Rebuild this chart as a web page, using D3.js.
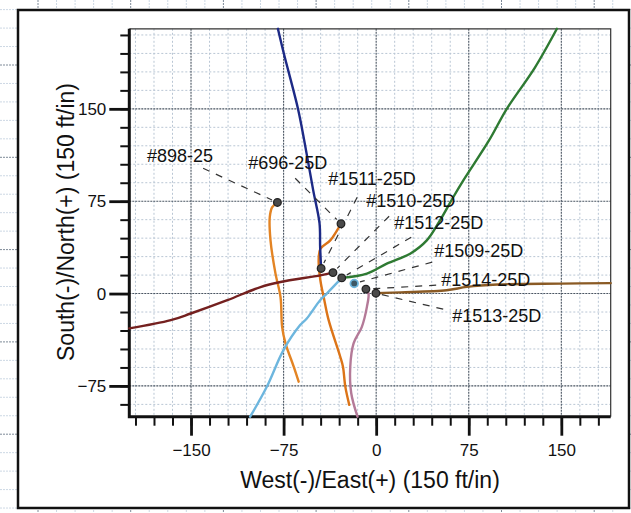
<!DOCTYPE html>
<html>
<head>
<meta charset="utf-8">
<script src="https://cdn.jsdelivr.net/npm/d3@7/dist/d3.min.js"></script>
<style>
  body { margin: 0; background: #fff; }
  text { font-family: "Liberation Sans", Arial, sans-serif; fill: #111; }
</style>
</head>
<body>
<div id="chart"></div>
<script>
// well labels
const wells = ["#898-25", "#696-25D", "#1511-25D", "#1510-25D", "#1512-25D", "#1509-25D", "#1514-25D", "#1513-25D"];

// surface location of each well (West-/East+, South-/North+)
const markerX = [-80, -28.5, -44.6, -35, -27.9, -17.8, -8.3, -0.2];
const markerY = [74, 56.7, 20.4, 17, 12.7, 8.2, 3.6, 0.3];

// label anchors (text start, baseline) and leader start points, in chart units
const labelX = [-185.6, -103.7, -38.9, -8.1, 14.6, 47, 52.7, 61.6];
const labelY = [106.6, 100.9, 87.9, 70.1, 52.2, 29.5, 6, -23.2];
const leaderX = [-140.2, -65.6, -15.4, 10.5, 28.4, 45.4, 48.6, 54.3];
const leaderY = [101.7, 93.6, 78.2, 62.8, 45.7, 25.5, 6.8, -12.7];

// well paths
const path898 = [[-80, 74], [-84.2, 70.1], [-86.2, 62], [-85.6, 43.2], [-81.6, 16.4], [-77.5, -2.8], [-76.2, -27], [-73.5, -40.2], [-66.8, -59.4], [-62.8, -71.6]];
const path696 = [[-28.5, 56.7], [-31.7, 51.3], [-37.2, 43.2], [-45.2, 36.4], [-46.6, 27], [-45.2, 10.8], [-42, -5.4], [-38.5, -21.6], [-29.1, -51.3], [-26.9, -59.4], [-25, -75.6], [-21.8, -90.4]];
const path1511 = [[-79.6, 215], [-74.8, 194.9], [-63.4, 150.3], [-58.3, 124.4], [-51, 83.8], [-45.9, 57.1], [-45.4, 37.9], [-44.6, 20.4]];
const path1510 = [[-200, -28.3], [-166.4, -21.6], [-150.2, -16.2], [-120.6, -5.4], [-93.7, 5.3], [-77.5, 9.4], [-45.2, 14.8], [-35, 17]];
const path1512 = [[-27.9, 12.7], [-7.5, 16.2], [8.6, 24.3], [27.5, 32.4], [41, 43.2], [51.7, 59.4], [62.4, 78.2], [70.5, 91.7], [91.3, 124.1], [105.8, 150], [128.6, 183.5], [146.4, 215]];
const path1509 = [[-102.1, -100], [-88.6, -75.7], [-75.1, -45.9], [-61.6, -25.6], [-56.2, -20.2], [-45.4, -5.4], [-40, 0], [-27.9, 12.7]];
const path1514 = [[-8.3, 3.6], [-6.2, 0], [-7.5, -10.8], [-11.6, -27], [-18.3, -40.5], [-21, -59.4], [-20.2, -81], [-15.1, -100]];
const path1513 = [[-0.2, 0.3], [20, 1], [57, 2.7], [73.5, 5.4], [98, 7.3], [150, 8.1], [190, 8.5]];

const paths = [path898, path696, path1511, path1510, path1512, path1509, path1514, path1513];
const colors = ["#e38424", "#dc7418", "#1d2a86", "#74201f", "#2e7a32", "#6db6de", "#b47a98", "#8a5a24"];

// axis ticks
const majorTicks = [-150, -75, 0, 75, 150];
const yMajorTicks = [-75, 0, 75, 150];
const xMinorTicks = d3.range(-195, 181, 15);
const yMinorTicks = d3.range(-90, 211, 15);

const W = 631, H = 513;
const margin = {left: 129.3, top: 28.8, right: 20.3, bottom: 96.3};

const svg = d3.select("#chart").append("svg")
    .attr("width", W)
    .attr("height", H);

// graph paper behind the chart frame
const paper = svg.append("g");
paper.selectAll(".pv").data(d3.range(38, W, 18.54)).join("line")
    .attr("x1", d => d).attr("x2", d => d).attr("y1", 0).attr("y2", H)
    .attr("stroke", (d, i) => i % 5 === 0 ? "#7e8a98" : "#cdd8e4")
    .attr("stroke-width", 1).attr("stroke-dasharray", "2,1");
paper.selectAll(".ph").data(d3.range(65 - 18.46 * 3, H, 18.46)).join("line")
    .attr("y1", d => d).attr("y2", d => d).attr("x1", 0).attr("x2", W)
    .attr("stroke", (d, i) => i % 5 === 3 ? "#7e8a98" : "#cdd8e4")
    .attr("stroke-width", 1).attr("stroke-dasharray", "2,1");

// chart frame
svg.append("rect")
    .attr("x", 18).attr("y", 10).attr("width", 611).attr("height", 498)
    .attr("fill", "#fff").attr("stroke", "#111").attr("stroke-width", 2.5);

const x = d3.scaleLinear().domain([-200, 190]).range([margin.left, W - margin.right]);
const y = d3.scaleLinear().domain([-100, 215]).range([H - margin.bottom, margin.top]);

const g = svg.append("g");

// minor grid
g.selectAll(".gxm").data(xMinorTicks.filter(d => d % 75 !== 0)).join("line")
    .attr("x1", d => x(d)).attr("x2", d => x(d)).attr("y1", y(215)).attr("y2", y(-100))
    .attr("stroke", "#b9c6d4").attr("stroke-width", 1).attr("stroke-dasharray", "2,2");
g.selectAll(".gym").data(yMinorTicks.filter(d => d % 75 !== 0)).join("line")
    .attr("y1", d => y(d)).attr("y2", d => y(d)).attr("x1", x(-200)).attr("x2", x(190))
    .attr("stroke", "#b9c6d4").attr("stroke-width", 1).attr("stroke-dasharray", "2,2");
// major grid
g.selectAll(".gx").data(majorTicks).join("line")
    .attr("x1", d => x(d)).attr("x2", d => x(d)).attr("y1", y(215)).attr("y2", y(-100))
    .attr("stroke", "#4a5562").attr("stroke-width", 1.1).attr("stroke-dasharray", "2,1");
g.selectAll(".gy").data(yMajorTicks).join("line")
    .attr("y1", d => y(d)).attr("y2", d => y(d)).attr("x1", x(-200)).attr("x2", x(190))
    .attr("stroke", "#4a5562").attr("stroke-width", 1.1).attr("stroke-dasharray", "2,1");

// top and right border of plot
g.append("path")
    .attr("d", `M${x(-200)},${y(215)}H${x(190)}V${y(-100)}`)
    .attr("fill", "none").attr("stroke", "#333").attr("stroke-width", 1.2);

// axes
const xAxisMinor = d3.axisBottom(x).tickValues(xMinorTicks).tickSize(9).tickFormat("");
const xAxisMajor = d3.axisBottom(x).tickValues(majorTicks).tickSize(19).tickPadding(8).tickFormat(d3.format("d"));
const yAxisMinor = d3.axisLeft(y).tickValues(yMinorTicks).tickSize(9).tickFormat("");
const yAxisMajor = d3.axisLeft(y).tickValues(yMajorTicks).tickSize(20).tickPadding(3).tickFormat(d3.format("d"));

function styleAxis(sel, w) {
    sel.select(".domain").remove();
    sel.selectAll(".tick line").attr("stroke", "#111").attr("stroke-width", w);
    sel.selectAll(".tick text").attr("font-size", 17).attr("fill", "#111")
        .attr("font-family", "Liberation Sans, Arial, sans-serif");
}
g.append("g").attr("transform", `translate(0,${y(-100)})`).call(xAxisMinor).call(styleAxis, 2);
g.append("g").attr("transform", `translate(0,${y(-100)})`).call(xAxisMajor).call(styleAxis, 2.8);
g.append("g").attr("transform", `translate(${x(-200)},0)`).call(yAxisMinor).call(styleAxis, 2);
g.append("g").attr("transform", `translate(${x(-200)},0)`).call(yAxisMajor).call(styleAxis, 2.8);

g.append("path")
    .attr("d", `M${x(-200)},${y(215)}V${y(-100)}H${x(190)}`)
    .attr("fill", "none").attr("stroke", "#111").attr("stroke-width", 3);

// axis titles
svg.append("text")
    .attr("x", 370).attr("y", 488)
    .attr("text-anchor", "middle").attr("font-size", 23)
    .text("West(-)/East(+) (150 ft/in)");
svg.append("text")
    .attr("transform", "translate(74,222) rotate(-90)")
    .attr("text-anchor", "middle").attr("font-size", 23)
    .text("South(-)/North(+) (150 ft/in)");

// well paths
const line = d3.line().x(d => x(d[0])).y(d => y(d[1])).curve(d3.curveCatmullRom);
const plot = g.append("g");
plot.selectAll(".well").data(paths).join("path")
    .attr("class", "well")
    .attr("d", line)
    .attr("fill", "none")
    .attr("stroke", (d, i) => colors[i])
    .attr("stroke-width", 2.4)
    .attr("stroke-linecap", "round");

// leader lines
const idx = d3.range(wells.length);
plot.selectAll(".leader").data(idx).join("line")
    .attr("class", "leader")
    .attr("x1", i => x(leaderX[i])).attr("y1", i => y(leaderY[i]))
    .attr("x2", i => {
        const dx = x(markerX[i]) - x(leaderX[i]), dy = y(markerY[i]) - y(leaderY[i]);
        const len = Math.hypot(dx, dy);
        return x(leaderX[i]) + dx * (len - 6) / len;
    })
    .attr("y2", i => {
        const dx = x(markerX[i]) - x(leaderX[i]), dy = y(markerY[i]) - y(leaderY[i]);
        const len = Math.hypot(dx, dy);
        return y(leaderY[i]) + dy * (len - 6) / len;
    })
    .attr("stroke", "#333").attr("stroke-width", 1.2).attr("stroke-dasharray", "7,7");

// surface markers
plot.selectAll(".marker").data(idx).join("circle")
    .attr("class", "marker")
    .attr("cx", i => x(markerX[i])).attr("cy", i => y(markerY[i]))
    .attr("r", 3.8)
    .attr("fill", i => i === 5 ? "#3d5866" : "#4a4a4a")
    .attr("stroke", i => i === 5 ? "#6db6de" : "#222")
    .attr("stroke-width", i => i === 5 ? 1.8 : 1.3);

// well labels
plot.selectAll(".label").data(idx).join("text")
    .attr("class", "label")
    .attr("x", i => x(labelX[i])).attr("y", i => y(labelY[i]))
    .attr("font-size", 18)
    .text(i => wells[i]);
</script>
</body>
</html>
